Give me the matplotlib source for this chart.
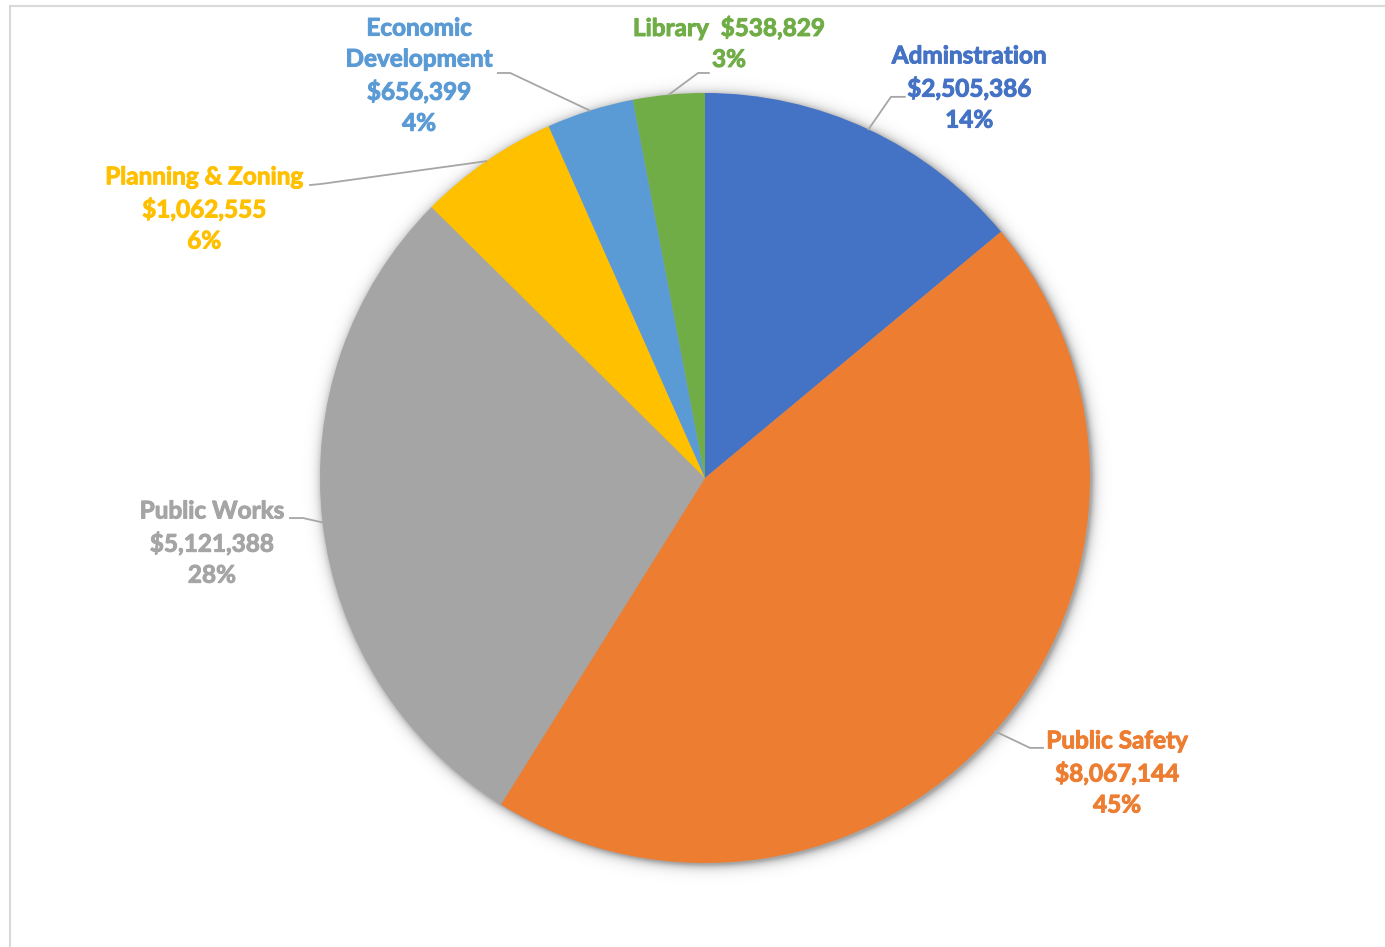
import numpy as np
import matplotlib.pyplot as plt
import matplotlib.patheffects as pe
from matplotlib.lines import Line2D

plt.rcParams['font.family'] = ['Lato', 'DejaVu Sans']

departments = ["Adminstration", "Public Safety", "Public Works",
               "Planning & Zoning", "Economic\nDevelopment", "Library"]
budgets = [2505386, 8067144, 5121388, 1062555, 656399, 538829]
pct_labels = ["14%", "45%", "28%", "6%", "4%", "3%"]
colors = ["#4472C4", "#ED7D31", "#A5A5A5", "#FFC000", "#5B9BD5", "#70AD47"]

# label block centre, elbow of leader line, end of leader line (data units)
label_pos = [(0.686, 1.013), (1.070, -0.766), (-1.281, -0.169),
             (-1.301, 0.699), (-0.743, 1.045), (0.062, 1.130)]
elbows = [(0.483, 0.990), (0.844, -0.701), (-1.044, -0.104),
          (-0.995, 0.764), (-0.506, 1.052), (-0.018, 1.052)]
line_ends = [(0.519, 0.990), (0.878, -0.701), (-1.078, -0.104),
             (-1.026, 0.761), (-0.538, 1.052), (0.010, 1.052)]

fig = plt.figure(figsize=(13.85, 9.47), dpi=100)
ax = fig.add_axes([320 / 1385, 84 / 947, 770 / 1385, 770 / 947])

# soft shadow round the pie
n = 600
g = np.linspace(-1.12, 1.12, n)
xx, yy = np.meshgrid(g, g)
r = np.hypot(xx - 0.004, yy + 0.006)
a = np.where(r > 1, np.exp(-(r - 1) / 0.012) * 0.35, 0.35)
shadow = np.zeros((n, n, 4))
shadow[..., 3] = a
ax.imshow(shadow, extent=[-1.12, 1.12, -1.12, 1.12], origin="lower",
          zorder=0, interpolation="bilinear", clip_on=False)

wedges, _ = ax.pie(budgets, colors=colors, startangle=90, counterclock=False,
                   radius=1, wedgeprops=dict(linewidth=0, zorder=2))
ax.set_xlim(-1, 1)
ax.set_ylim(-1, 1)
ax.set_aspect("auto")
ax.axis("off")

for i, w in enumerate(wedges):
    mid = np.deg2rad((w.theta1 + w.theta2) / 2)
    start = (np.cos(mid), np.sin(mid))
    ax.add_line(Line2D([start[0], elbows[i][0], line_ends[i][0]],
                       [start[1], elbows[i][1], line_ends[i][1]],
                       color="#A6A6A6", lw=1.3, clip_on=False, zorder=3))
    if departments[i] == "Library":
        txt = f"{departments[i]}  ${budgets[i]:,}\n{pct_labels[i]}"
    else:
        txt = f"{departments[i]}\n${budgets[i]:,}\n{pct_labels[i]}"
    ax.text(label_pos[i][0], label_pos[i][1], txt, ha="center", va="center",
            color=colors[i], fontsize=17.5, fontweight="bold", linespacing=1.42,
            clip_on=False, zorder=4,
            path_effects=[pe.withStroke(linewidth=0.7, foreground=colors[i])])

# chart area border (runs off the right and bottom)
fig.add_artist(Line2D([10 / 1385, 10 / 1385], [0, 1 - 6 / 947],
                      transform=fig.transFigure, color="#D9D9D9", lw=1.5))
fig.add_artist(Line2D([10 / 1385, 1], [1 - 6 / 947, 1 - 6 / 947],
                      transform=fig.transFigure, color="#D9D9D9", lw=1.5))

fig.savefig("out.png", dpi=100)
